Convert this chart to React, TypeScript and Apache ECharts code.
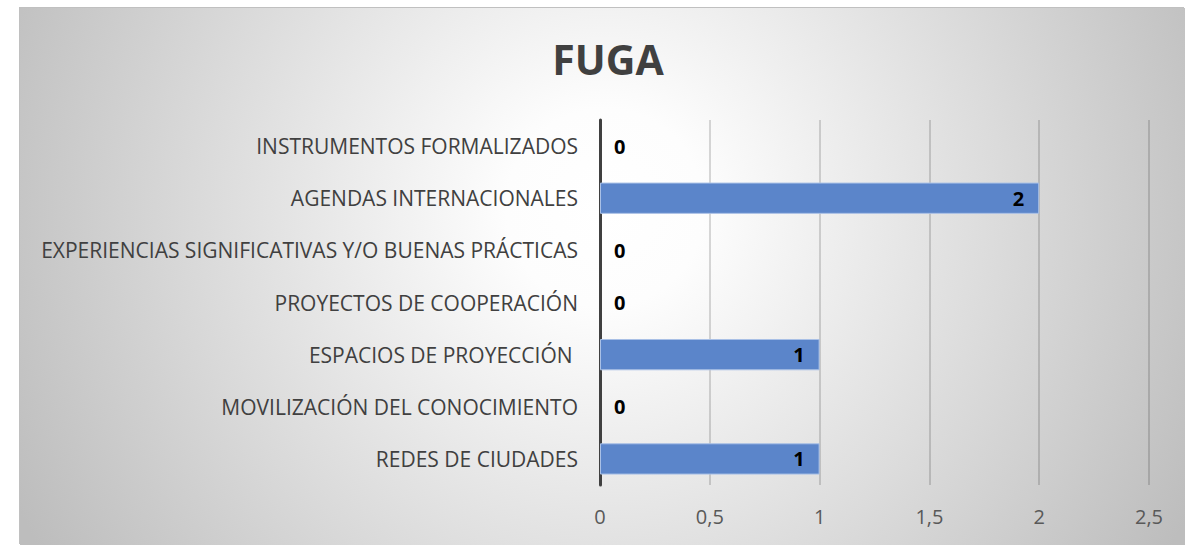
import React, { useEffect, useRef } from "react";
import * as echarts from "echarts";

const categories = [
  "REDES DE CIUDADES",
  "MOVILIZACIÓN DEL CONOCIMIENTO",
  "ESPACIOS DE PROYECCIÓN ",
  "PROYECTOS DE COOPERACIÓN",
  "EXPERIENCIAS SIGNIFICATIVAS Y/O BUENAS PRÁCTICAS",
  "AGENDAS INTERNACIONALES",
  "INSTRUMENTOS FORMALIZADOS",
];
const values = [1, 0, 1, 0, 0, 2, 0];
const title = "FUGA";
const xMin = 0;
const xMax = 2.5;
const xStep = 0.5;

export default function App() {
  const ref = useRef<HTMLDivElement>(null);
  useEffect(() => {
    if (!ref.current) return;
    const chart = echarts.init(ref.current, undefined, { renderer: "svg" });
    const font = "'Open Sans', sans-serif";
    chart.setOption({
      animation: false,
      backgroundColor: {
        type: "radial",
        global: true,
        x: 585,
        y: 200,
        r: 660,
        colorStops: [
          { offset: 0, color: "#ffffff" },
          { offset: 0.15, color: "#fdfdfd" },
          { offset: 1, color: "#bdbdbd" },
        ],
      },
      title: {
        text: title,
        left: 583,
        textAlign: "center",
        top: 25,
        textStyle: { fontFamily: font, fontSize: 41, fontWeight: "bold", color: "#404040" },
      },
      grid: { left: 580, right: 36, top: 112, bottom: 60, containLabel: false },
      xAxis: {
        type: "value",
        min: xMin,
        max: xMax,
        interval: xStep,
        axisLine: { show: false },
        axisTick: { show: false },
        splitLine: { show: true, lineStyle: { color: "rgba(0,0,0,0.2)", width: 1.5 } },
        axisLabel: {
          margin: 21,
          fontFamily: font,
          fontSize: 20,
          color: "#595959",
          formatter: (v: number) => String(v).replace(".", ","),
        },
      },
      yAxis: {
        type: "category",
        data: categories,
        axisLine: { show: true, lineStyle: { color: "#404040", width: 3 } },
        axisTick: { show: false },
        axisLabel: { margin: 22, fontFamily: font, fontSize: 21, color: "#404040" },
      },
      series: [
        {
          type: "bar",
          barWidth: "60%",
          data: values.map((v) => ({
            value: v,
            itemStyle: v > 0 ? {} : { borderWidth: 0 },
            label: v > 0
              ? { position: "insideRight", distance: 15 }
              : { position: "right", distance: 14 },
          })),
          itemStyle: { color: "#5b85ca", borderColor: "#a9c0e6", borderWidth: 1 },
          label: {
            show: true,
            fontFamily: font,
            fontSize: 20,
            fontWeight: "bold",
            color: "#000000",
          },
        },
      ],
    });
    return () => chart.dispose();
  }, []);
  return (
    <div
      ref={ref}
      style={{
        position: "absolute",
        left: 20,
        top: 8,
        width: 1165,
        height: 537,
        boxShadow: "-1px -1px 0 #c0c0c0",
      }}
    />
  );
}
